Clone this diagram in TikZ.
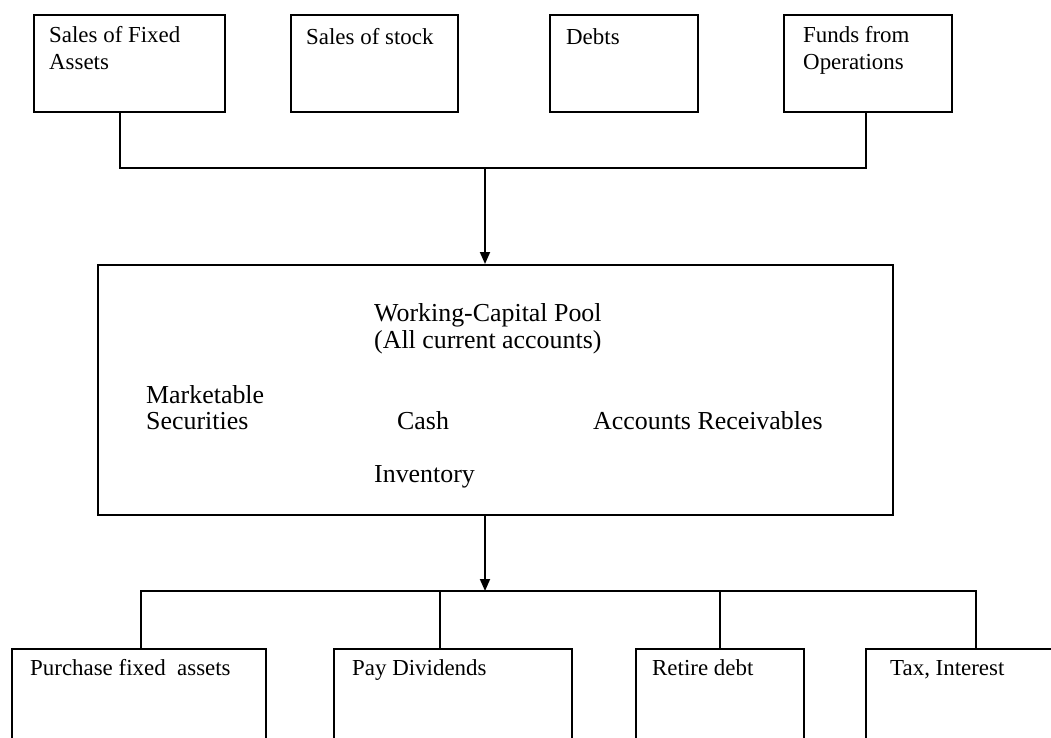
\documentclass[tikz,border=0pt]{standalone}
\usepackage{fontspec}
\setmainfont{Liberation Serif}
\usetikzlibrary{arrows.meta}
\begin{document}
\begin{tikzpicture}[x=1bp,y=-1bp,
  box/.style={draw=black,line width=1.8bp,rectangle,inner sep=0pt,anchor=north west},
  lbl/.style={anchor=base west,inner sep=0pt,font=\fontsize{23}{27}\selectfont},
  plbl/.style={anchor=base west,inner sep=0pt,font=\fontsize{26}{30}\selectfont},
  conn/.style={draw=black,line width=1.8bp},
  arr/.style={conn,-{Triangle[length=12bp,width=10bp]}}]
\useasboundingbox (0,0) rectangle (1051,738);
\clip (0,0) rectangle (1051,738);
% top boxes
\node[box,minimum width=191bp,minimum height=97bp] (b1) at (33,14) {};
\node[box,minimum width=167bp,minimum height=97bp] (b2) at (290,14) {};
\node[box,minimum width=148bp,minimum height=97bp] (b3) at (549,14) {};
\node[box,minimum width=168bp,minimum height=97bp] (b4) at (783,14) {};
\node[lbl] (t1a) at (49,43) {Sales of Fixed};
\node[lbl] (t1b) at (49,70) {Assets};
\node[lbl] (t2) at (306,45) {Sales of stock};
\node[lbl] (t3) at (566,45) {Debts};
\node[lbl] (t4a) at (803,43) {Funds from};
\node[lbl] (t4b) at (803,70) {Operations};
% pool box
\node[box,minimum width=795bp,minimum height=250bp] (pool) at (97,264) {};
\node[plbl] (p1) at (374,321) {Working-Capital Pool};
\node[plbl] (p2) at (374,348) {(All current accounts)};
\node[plbl] (m1) at (146,403) {Marketable};
\node[plbl] (m2) at (146,429) {Securities};
\node[plbl] (cash) at (397,429) {Cash};
\node[plbl] (ar) at (593,429) {Accounts Receivables};
\node[plbl] (inv) at (374,482) {Inventory};
% bottom boxes
\node[box,minimum width=254bp,minimum height=120bp] (c1) at (11,648) {};
\node[box,minimum width=238bp,minimum height=120bp] (c2) at (333,648) {};
\node[box,minimum width=168bp,minimum height=120bp] (c3) at (635,648) {};
\node[box,minimum width=220bp,minimum height=120bp] (c4) at (865,648) {};
\node[lbl] (d1) at (30,675) {Purchase fixed\ \ assets};
\node[lbl] (d2) at (352,675) {Pay Dividends};
\node[lbl] (d3) at (652,675) {Retire debt};
\node[lbl] (d4) at (890,675) {Tax, Interest};
% top connectors
\coordinate (jt) at (485,168);
\coordinate (jb) at (485,591);
\draw[conn] (b1.south west) ++(87,0) coordinate (s1) -- (s1 |- jt) -- (jt);
\draw[conn] (b4.south west) ++(83,0) coordinate (s4) -- (s4 |- jt) -- (jt);
\draw[arr] (jt) -- (pool.north -| jt);
% bottom connectors
\draw[arr] (pool.south -| jb) -- (jb);
\coordinate (e1) at (141,648);
\coordinate (e2) at (440,648);
\coordinate (e3) at (720,648);
\coordinate (e4) at (976,648);
\draw[conn] (e1) -- (e1 |- jb) -- (e4 |- jb) -- (e4);
\draw[conn] (e2 |- jb) -- (e2);
\draw[conn] (e3 |- jb) -- (e3);
\end{tikzpicture}
\end{document}
